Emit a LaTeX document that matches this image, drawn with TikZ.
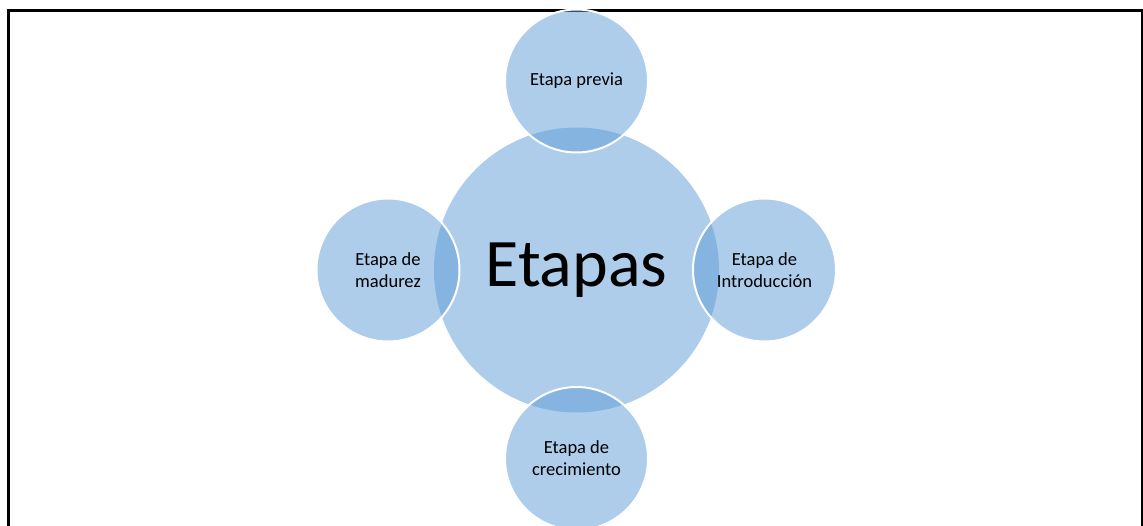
\documentclass[tikz,border=0pt]{standalone}
\usepackage{fontspec}
\setmainfont{Carlito}
\definecolor{accblue}{HTML}{5B9BD5}
\begin{document}
\begin{tikzpicture}[x=1pt,y=-1pt,
  bubble/.style={circle,inner sep=0pt,fill=accblue,fill opacity=0.5,text opacity=1,align=center,text=black},
  smallbubble/.style={bubble,minimum size=143pt,draw=white,line width=2pt,draw opacity=1,
    font=\fontsize{18.5}{22}\selectfont},
  bigbubble/.style={bubble,minimum size=285pt,font=\fontsize{68}{72}\selectfont}]
\useasboundingbox (0,0) rectangle (1143,526);
\clip (0,0) rectangle (1143,526);
\draw[line width=3pt] (8.5,10.5) rectangle (1142.5,640);
\node[bigbubble] (center) at (576.5,270) {Etapas};
\node[smallbubble] (top) at (576.5,81) {Etapa previa};
\node[smallbubble] (left) at (388,270) {Etapa de\\madurez};
\node[smallbubble] (right) at (764.5,270) {Etapa de\\Introducción};
\node[smallbubble] (bottom) at (576.5,458.5) {Etapa de\\crecimiento};
\end{tikzpicture}
\end{document}
